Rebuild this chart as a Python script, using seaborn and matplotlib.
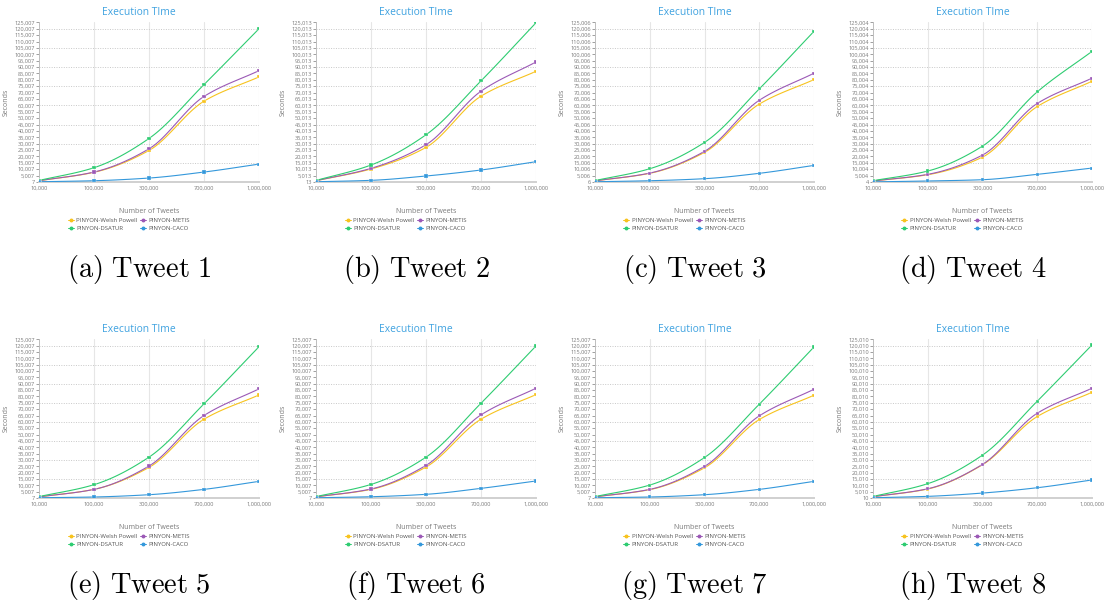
import matplotlib
matplotlib.use('Agg')
import matplotlib.pyplot as plt
from matplotlib.lines import Line2D
import seaborn as sns
import pandas as pd
import numpy as np

# Categorias del eje x (igualmente espaciadas)
tweets = ['10,000', '100,000', '300,000', '700,000', '1,000,000']
series = ['PINYON-Welsh Powell', 'PINYON-METIS', 'PINYON-DSATUR', 'PINYON-CACO']
colores = {'PINYON-Welsh Powell': '#F7C31E', 'PINYON-METIS': '#9B59B6',
           'PINYON-DSATUR': '#2ECC71', 'PINYON-CACO': '#3498DB'}

paneles = ['(a) Tweet 1', '(b) Tweet 2', '(c) Tweet 3', '(d) Tweet 4',
           '(e) Tweet 5', '(f) Tweet 6', '(g) Tweet 7', '(h) Tweet 8']
offsets = [7, 13, 6, 4, 7, 7, 7, 10]

# Valores (ms)
welsh = [
    [1000, 7600, 24700, 63300, 82300],
    [1000, 10200, 27100, 67200, 86700],
    [900, 6800, 23200, 61000, 80200],
    [800, 5700, 19500, 59100, 78900],
    [900, 6800, 24100, 62100, 81200],
    [900, 6800, 24400, 62100, 81500],
    [900, 6600, 23800, 61800, 81000],
    [1000, 7100, 26200, 64200, 83300],
]
metis = [
    [1000, 7800, 26000, 67000, 87200],
    [1000, 10700, 29200, 71100, 94000],
    [900, 7000, 24000, 64000, 85200],
    [800, 6000, 21100, 61500, 81300],
    [900, 6800, 25200, 65000, 86000],
    [900, 7100, 25700, 65500, 86500],
    [900, 6800, 24900, 64700, 85700],
    [1000, 7300, 26500, 66800, 86500],
]
dsatur = [
    [1200, 11200, 34100, 76300, 120000],
    [1200, 13300, 37000, 79200, 124700],
    [1100, 10400, 31000, 72900, 118000],
    [1000, 8600, 28100, 70600, 102300],
    [1100, 10500, 32200, 74200, 119200],
    [1100, 10700, 32200, 74700, 119800],
    [1100, 10200, 31900, 73900, 119000],
    [1200, 11300, 33800, 76300, 120600],
]
caco = [
    [200, 1000, 3100, 7800, 14000],
    [200, 1300, 4700, 9400, 15900],
    [200, 1000, 2600, 6800, 13000],
    [100, 800, 1800, 6000, 10900],
    [200, 800, 2600, 6800, 13100],
    [200, 1000, 2900, 7600, 13400],
    [200, 800, 2600, 6800, 13100],
    [200, 1300, 3900, 8100, 14200],
]

W, H = 1109, 607
# Posiciones de los ejes en pixeles (izq, der, arriba, abajo)
cols = [(39, 259), (316, 536), (595, 814), (873, 1092)]
rows = [(22, 182), (339, 498)]
cap_y = [270, 585]

TXT = '#7a7a7a'


def monotone(y, n=30):
    """Curva suave monotona (Fritsch-Carlson) para dibujar la linea."""
    y = np.asarray(y, dtype=float)
    x = np.arange(len(y), dtype=float)
    d = np.diff(y)
    m = np.zeros_like(y)
    m[0], m[-1] = d[0], d[-1]
    for i in range(1, len(y) - 1):
        if d[i - 1] * d[i] <= 0:
            m[i] = 0
        else:
            m[i] = 2 / (1 / d[i - 1] + 1 / d[i])
    xs, ys = [], []
    for i in range(len(y) - 1):
        t = np.linspace(0, 1, n)
        h00 = 2 * t**3 - 3 * t**2 + 1
        h10 = t**3 - 2 * t**2 + t
        h01 = -2 * t**3 + 3 * t**2
        h11 = t**3 - t**2
        xs.append(x[i] + t)
        ys.append(h00 * y[i] + h10 * m[i] + h01 * y[i + 1] + h11 * m[i + 1])
    return np.concatenate(xs), np.concatenate(ys)


sns.set_theme(style='white')
plt.rcParams['font.family'] = ['Open Sans', 'DejaVu Sans']
plt.rcParams['mathtext.fontset'] = 'cm'

fig = plt.figure(figsize=(W / 100, H / 100), dpi=100)

for k in range(8):
    r, c = divmod(k, 4)
    left, right = cols[c]
    top, bottom = rows[r]
    ancho = right - left
    ax = fig.add_axes([left / W, 1 - bottom / H, ancho / W, (bottom - top) / H])

    off = offsets[k]
    df = pd.DataFrame({
        'x': np.tile(np.arange(len(tweets)), 4),
        'y': np.concatenate([welsh[k], metis[k], dsatur[k], caco[k]]) + off,
        'serie': np.repeat(series, len(tweets)),
    })

    for s in ['PINYON-CACO', 'PINYON-Welsh Powell', 'PINYON-METIS', 'PINYON-DSATUR']:
        sub = df[df['serie'] == s]
        xs, ys = monotone(sub['y'].values)
        ax.plot(xs, ys, color=colores[s], lw=0.8, zorder=3)
    sns.scatterplot(data=df, x='x', y='y', hue='serie', palette=colores, ax=ax,
                    s=5, marker='s', edgecolor='white', linewidth=0.2,
                    legend=False, zorder=4)

    ymax = off + 125000
    ax.set_xlim(0, len(tweets) - 1)
    ax.set_ylim(off, ymax + 300)
    ax.set_xticks(range(len(tweets)))
    ax.set_xticklabels(tweets)
    yt = np.arange(off, ymax + 1, 5000)
    ax.set_yticks(yt)
    ax.set_yticklabels([f'{v:,}' for v in yt])

    # rejilla
    for xv in range(1, len(tweets)):
        ax.axvline(xv, color='#e6e6e6', lw=0.8, zorder=1)
    for yv in np.arange(off + 15000, ymax + 1, 15000):
        ax.axhline(yv, color='#c8c8c8', lw=0.7, ls=(0, (1, 1.5)), zorder=1)

    for sp in ['top', 'right']:
        ax.spines[sp].set_visible(False)
    ax.spines['left'].set_color('#bdbdbd')
    ax.spines['left'].set_linewidth(0.7)
    ax.spines['bottom'].set_color('#d0d0d0')
    ax.spines['bottom'].set_linewidth(1.4)

    ax.tick_params(axis='y', labelsize=4.1, colors=TXT, length=2, width=0.5,
                   pad=1, left=True)
    ax.tick_params(axis='x', labelsize=4.1, colors=TXT, length=0, pad=3)

    ax.set_title('Execution TIme', fontsize=7.4, color='#3fa2e0', pad=5,
                 x=0.5 - 10 / ancho)
    ax.set_ylabel('Seconds', fontsize=5, color=TXT, labelpad=3)
    ax.set_xlabel('Number of Tweets', fontsize=5, color=TXT, labelpad=12)

    # orden por columnas: fila 1 Welsh/METIS, fila 2 DSATUR/CACO
    orden = ['PINYON-Welsh Powell', 'PINYON-DSATUR', 'PINYON-METIS', 'PINYON-CACO']
    handles = [Line2D([0], [0], color=colores[s], lw=0.7, marker='o', markersize=1.8,
                      label=s) for s in orden]
    leg = ax.legend(handles=handles, ncol=2, loc='upper center',
                    bbox_to_anchor=(0.5 - 20 / ancho, -0.205), frameon=False,
                    fontsize=4.3, handlelength=1.0, handletextpad=0.4,
                    columnspacing=0.5, labelspacing=0.5, borderpad=0)
    for t in leg.get_texts():
        t.set_color('#555555')

    label = paneles[k].replace(' ', r'\ ')
    fig.text(((left + right) / 2 - 10) / W, 1 - cap_y[r] / H, r'$\mathrm{' + label + '}$',
             ha='center', va='center', fontsize=20.5, color='black')

fig.savefig('out.png', dpi=100)
